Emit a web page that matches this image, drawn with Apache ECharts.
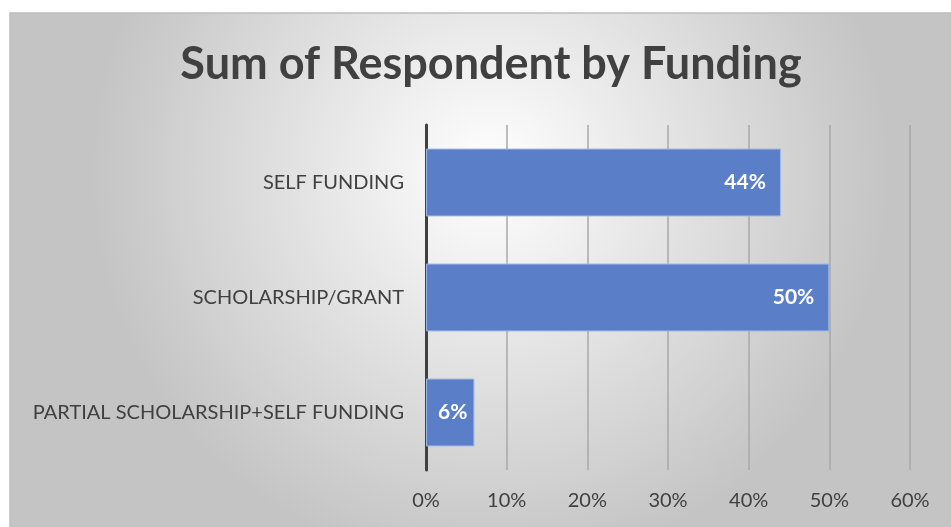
<!DOCTYPE html>
<html>
<head>
<meta charset="utf-8">
<script src="https://cdn.jsdelivr.net/npm/echarts@6/dist/echarts.min.js"></script>
<style>
  html, body { margin: 0; padding: 0; background: #ffffff; }
  #chart { width: 951px; height: 527px; }
</style>
</head>
<body>
<div id="chart"></div>
<script>
// Funding categories, listed bottom to top as the category axis draws them
const categories = ['PARTIAL SCHOLARSHIP+SELF FUNDING', 'SCHOLARSHIP/GRANT', 'SELF FUNDING'];
// Share of respondents, in percent
const shares = [6, 50, 44];
// Value axis tick range
const axisMin = 0;
const axisMax = 60;
const axisStep = 10;

const fontFamily = 'Lato, "Open Sans", sans-serif';
const textColor = '#404040';

// Short bars keep their label closer to the bar end
const barData = shares.map(v => (v < 10 ? { value: v, label: { offset: [-2, 0] } } : { value: v }));

const chart = echarts.init(document.getElementById('chart'), null, { renderer: 'canvas' });

chart.setOption({
  animation: false,
  graphic: [{
    type: 'rect',
    z: -10,
    shape: { x: 10, y: 13, width: 960, height: 530 },
    style: {
      fill: new echarts.graphic.RadialGradient(0.5, 0.3, 0.75, [
        { offset: 0, color: '#ffffff' },
        { offset: 1, color: '#c4c4c4' }
      ]),
      stroke: '#bdbdbd',
      lineWidth: 1.5
    },
    silent: true
  }],
  title: {
    text: 'Sum of Respondent by Funding',
    left: 486,
    textAlign: 'center',
    top: 37,
    textStyle: {
      fontFamily: fontFamily,
      fontWeight: 'bold',
      fontSize: 45,
      color: textColor
    }
  },
  grid: {
    left: 426,
    right: 41,
    top: 125,
    bottom: 57,
    containLabel: false
  },
  xAxis: {
    type: 'value',
    min: axisMin,
    max: axisMax,
    interval: axisStep,
    axisLine: { show: false },
    axisTick: { show: false },
    splitLine: { show: true, lineStyle: { color: '#a9a9a9', width: 1.5 } },
    axisLabel: {
      formatter: v => v + '%',
      fontFamily: fontFamily,
      fontSize: 20,
      color: textColor,
      margin: 21
    }
  },
  yAxis: {
    type: 'category',
    data: categories,
    axisLine: { show: true, lineStyle: { color: '#404040', width: 3 } },
    axisTick: { show: false },
    axisLabel: {
      fontFamily: fontFamily,
      fontSize: 20,
      color: textColor,
      margin: 22
    }
  },
  series: [{
    type: 'bar',
    data: barData,
    barWidth: '59%',
    itemStyle: {
      color: '#5a7fc8',
      borderColor: '#9fb6e0',
      borderWidth: 1
    },
    label: {
      show: true,
      position: 'insideRight',
      formatter: p => p.value + '%',
      fontFamily: fontFamily,
      fontWeight: 'bold',
      fontSize: 21,
      color: '#ffffff',
      offset: [-10, 0]
    }
  }]
});
</script>
</body>
</html>
